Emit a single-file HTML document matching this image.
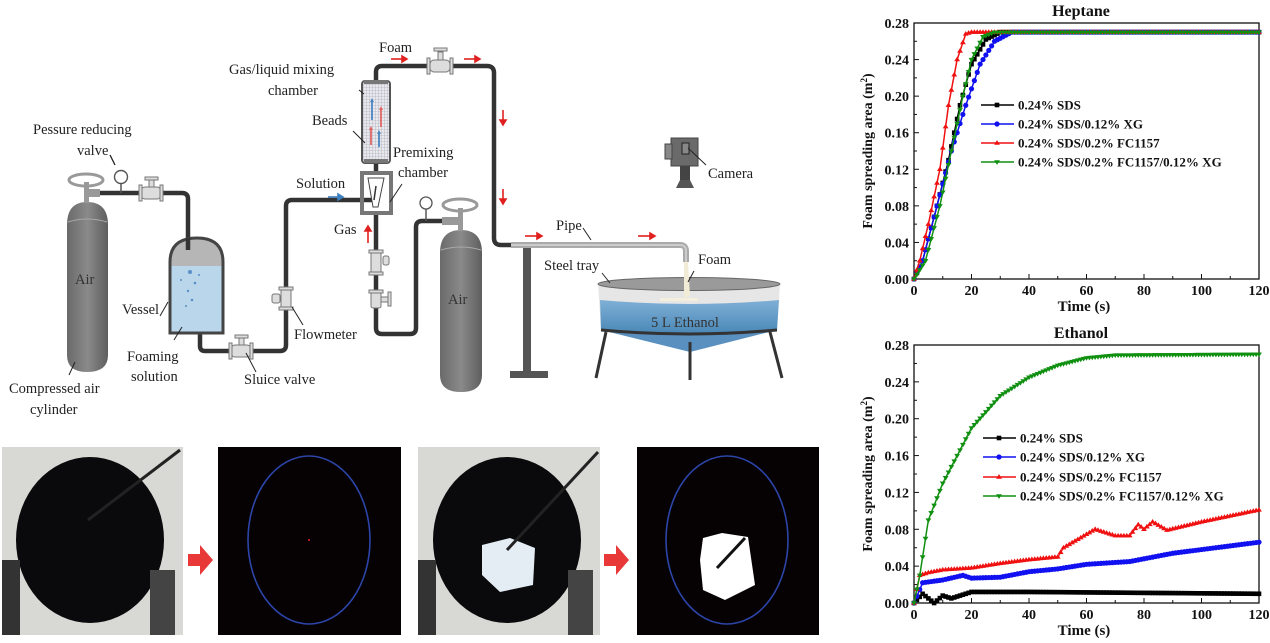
<!DOCTYPE html>
<html><head><meta charset="utf-8"><style>
html,body{margin:0;padding:0;background:#fff;}
svg{display:block;}
.l{font-family:"Liberation Serif",serif;font-size:14.5px;fill:#222;}
.c{font-family:"Liberation Serif",serif;font-weight:bold;fill:#111;}
</style></head><body>
<svg id="s" width="1270" height="643" viewBox="0 0 1270 643" xmlns="http://www.w3.org/2000/svg">
<defs>
<pattern id="grid" width="3" height="3" patternUnits="userSpaceOnUse"><rect width="3" height="3" fill="#e8e8ee"/><path d="M0 0H3M0 0V3" stroke="#9a9aa4" stroke-width="0.6"/></pattern>
<linearGradient id="cyl" x1="0" x2="1"><stop offset="0" stop-color="#6a6a6a"/><stop offset="0.5" stop-color="#8a8a8a"/><stop offset="1" stop-color="#5e5e5e"/></linearGradient>
<linearGradient id="wat" x1="0" y1="0" x2="0" y2="1"><stop offset="0" stop-color="#7fb0d6"/><stop offset="1" stop-color="#3f7fb0"/></linearGradient>
</defs>
<g fill="none" stroke="#333" stroke-width="4.5" stroke-linejoin="round">
<path d="M100 193 H182 Q188 193 188 199 V250"/>
<path d="M200 333 V346 Q200 351 205 351 H280 Q286 351 286 345 V206 Q286 200 292 200 H372"/>
<path d="M376 80 V72 Q376 66 382 66 H487 Q494 66 494 73 V238 Q494 245 501 245 H512"/>
<path d="M376 214 V328 Q376 334 382 334 H410 Q416 334 416 328 V227 Q416 221 422 221 H452"/>
<path d="M376 163 V172"/>
</g>
<path d="M67 225 Q67 202 87 202 Q108 202 108 225 V355 Q108 372 87 372 Q67 372 67 355Z" fill="url(#cyl)"/>
<path d="M68 222 Q87 216 107 222" stroke="#aaa" fill="none" stroke-width="1"/>
<rect x="84" y="182" width="5" height="21" fill="#999"/>
<rect x="88" y="189" width="12" height="8" fill="#999"/>
<ellipse cx="86" cy="180" rx="17" ry="6" fill="none" stroke="#999" stroke-width="3"/>
<circle cx="121" cy="177" r="6.5" fill="#fff" stroke="#555" stroke-width="1.4"/>
<line x1="121" y1="183" x2="121" y2="193" stroke="#555" stroke-width="1.5"/>
<line x1="115" y1="165" x2="110" y2="155" stroke="#222" stroke-width="1.3"/>
<g fill="#ddd" stroke="#777" stroke-width="1"><rect x="141" y="187" width="20" height="12" rx="4"/><rect x="139" y="185" width="3" height="16"/><rect x="160" y="185" width="3" height="16"/><rect x="149" y="180" width="5" height="7"/><rect x="145" y="177" width="13" height="3"/></g>
<path d="M170 333 V262 Q170 238 197 238 Q223 238 223 262 V333Z" fill="#b6b6b6" stroke="#444" stroke-width="3"/>
<rect x="171.5" y="266" width="50" height="65.5" fill="#b9d6ea"/>
<path d="M188 238 V250" stroke="#333" stroke-width="4.5"/>
<g fill="#5a8fc8"><circle cx="190" cy="272" r="2"/><circle cx="195" cy="283" r="1.3"/><circle cx="188" cy="291" r="1.2"/><circle cx="192" cy="300" r="1.3"/><circle cx="186" cy="306" r="1"/><circle cx="199" cy="275" r="1"/><circle cx="181" cy="280" r="1"/></g>
<g fill="#ddd" stroke="#777" stroke-width="1"><rect x="231" y="345" width="20" height="12" rx="4"/><rect x="229" y="343" width="3" height="16"/><rect x="250" y="343" width="3" height="16"/><rect x="239" y="338" width="5" height="7"/><rect x="235" y="335" width="13" height="3"/></g>
<g fill="#ddd" stroke="#777" stroke-width="1"><rect x="279" y="287" width="14" height="3"/><rect x="279" y="307" width="14" height="3"/><rect x="281" y="290" width="10" height="17"/><rect x="272" y="294" width="8" height="9" rx="2"/></g>
<g fill="#ddd" stroke="#777" stroke-width="1"><rect x="369" y="250" width="14" height="3"/><rect x="369" y="272" width="14" height="3"/><rect x="371" y="253" width="10" height="19"/><rect x="383" y="256" width="6" height="9" rx="2"/>
<rect x="371" y="292" width="10" height="16" rx="2"/><rect x="369" y="290" width="14" height="3"/><rect x="381" y="297" width="7" height="5"/><rect x="388" y="292" width="3" height="14"/></g>
<rect x="362" y="173" width="29" height="40" fill="none" stroke="#777" stroke-width="4"/>
<path d="M368 178 L384 178 L378 207 L373 207Z" fill="#fff" stroke="#444" stroke-width="1"/>
<path d="M374 200 L376 186" stroke="#333" stroke-width="1.5"/>
<rect x="362" y="81" width="28" height="82" rx="3" fill="url(#grid)" stroke="#555" stroke-width="2"/>
<rect x="364" y="80" width="24" height="4" fill="#777"/><rect x="364" y="159" width="24" height="4" fill="#777"/>
<g stroke-width="1.8"><path d="M372 120 V100" stroke="#4a86c0"/><path d="M381 127 V108" stroke="#e06666"/><path d="M371 145 V128" stroke="#e06666"/><path d="M379 147 V132" stroke="#4a86c0"/></g>
<g><path d="M372 98l-2 4h4z" fill="#4a86c0"/><path d="M381 106l-2 4h4z" fill="#e06666"/><path d="M371 126l-2 4h4z" fill="#e06666"/><path d="M379 130l-2 4h4z" fill="#4a86c0"/></g>
<line x1="359" y1="90" x2="364" y2="94" stroke="#222" stroke-width="1"/>
<line x1="353" y1="131" x2="365" y2="143" stroke="#222" stroke-width="1"/>
<line x1="402" y1="184" x2="390" y2="202" stroke="#222" stroke-width="1"/>
<g fill="#ddd" stroke="#777" stroke-width="1"><rect x="430" y="60" width="20" height="12" rx="4"/><rect x="427" y="58" width="3" height="16"/><rect x="450" y="58" width="3" height="16"/><rect x="438" y="52" width="5" height="8"/><rect x="434" y="48" width="13" height="3"/></g>
<g fill="#e02020" stroke="#e02020" stroke-width="1.6">
<path d="M391 59 H403"/><path d="M407 59 l-5 -3 v6z"/>
<path d="M464 59 H476"/><path d="M480 59 l-5 -3 v6z"/>
<path d="M503 110 V121"/><path d="M503 125 l-3 -5 h6z"/>
<path d="M503 189 V200"/><path d="M503 204 l-3 -5 h6z"/>
<path d="M525 236 H538"/><path d="M542 236 l-5 -3 v6z"/>
<path d="M638 236 H651"/><path d="M655 236 l-5 -3 v6z"/>
<path d="M368 243 V230"/><path d="M368 226 l-3 5 h6z"/>
</g>
<g fill="#3c7fc0" stroke="#3c7fc0" stroke-width="1.6"><path d="M328 197 H339"/><path d="M343 197 l-5 -3 v6z"/></g>
<path d="M440 253 Q440 230 461 230 Q482 230 482 253 V375 Q482 392 461 392 Q440 392 440 375Z" fill="url(#cyl)"/>
<path d="M441 250 Q461 244 481 250" stroke="#aaa" fill="none" stroke-width="1"/>
<rect x="458" y="208" width="5" height="23" fill="#999"/>
<rect x="442" y="217" width="16" height="8" fill="#999"/>
<ellipse cx="460" cy="205" rx="17" ry="6" fill="none" stroke="#999" stroke-width="3"/>
<circle cx="426" cy="203" r="6" fill="#fff" stroke="#555" stroke-width="1.3"/>
<line x1="426" y1="209" x2="426" y2="221" stroke="#555" stroke-width="1.5"/>
<rect x="523" y="248" width="8" height="125" fill="#555"/>
<rect x="510" y="371" width="38" height="7" fill="#555"/>
<path d="M511 245 H680 Q686 245 686 251 V262" fill="none" stroke="#aaa" stroke-width="6"/>
<path d="M511 245 H680 Q686 245 686 251 V262" fill="none" stroke="#ccc" stroke-width="2"/>
<line x1="591" y1="240" x2="583" y2="228" stroke="#222" stroke-width="1"/>
<path d="M598 284 L601 330 Q690 352 777 330 L780 284Z" fill="#e6e6e6"/>
<path d="M600 300 L601 330 Q690 352 777 330 L779 300 Q690 308 600 300Z" fill="url(#wat)"/>
<path d="M601 330 L690 352 L777 330 Q690 340 601 330Z" fill="#5a90c0"/>
<ellipse cx="689" cy="284" rx="91" ry="6.5" fill="#9a9a9a" stroke="#666" stroke-width="1"/>
<path d="M606 332 L596 378 M770 332 L782 378 M690 342 V380 M601 330 Q690 338 777 330" stroke="#333" stroke-width="3" fill="none"/>
<path d="M684 262 L688 262 L690 296 L684 298Z" fill="#f2ecd6"/>
<rect x="660" y="298" width="38" height="3" fill="#f4efdc"/>
<line x1="602" y1="273" x2="610" y2="283" stroke="#222" stroke-width="1"/>
<line x1="694" y1="271" x2="688" y2="282" stroke="#222" stroke-width="1"/>
<rect x="671" y="138" width="27" height="28" fill="#6a6a6a" stroke="#444"/>
<rect x="665" y="144" width="7" height="15" fill="#888" stroke="#444"/>
<rect x="682" y="143" width="7" height="11" fill="#888" stroke="#222"/>
<rect x="680" y="166" width="10" height="16" fill="#444"/>
<path d="M676 188 L680 180 L690 180 L694 188Z" fill="#555"/>
<line x1="688" y1="148" x2="706" y2="165" stroke="#222" stroke-width="1"/>
<g class="l">
<text x="33" y="134">Pessure reducing</text><text x="77" y="155">valve</text>
<text x="75" y="284" fill="#333">Air</text><text x="448" y="304" fill="#333">Air</text>
<text x="122" y="314">Vessel</text>
<text x="127" y="361">Foaming</text><text x="131" y="381">solution</text>
<text x="9" y="393">Compressed air</text><text x="30" y="414">cylinder</text>
<text x="244" y="384">Sluice valve</text>
<text x="294" y="339">Flowmeter</text>
<text x="296" y="188">Solution</text>
<text x="334" y="234">Gas</text>
<text x="229" y="74">Gas/liquid mixing</text><text x="268" y="95">chamber</text>
<text x="312" y="125">Beads</text>
<text x="393" y="157">Premixing</text><text x="398" y="177">chamber</text>
<text x="379" y="52">Foam</text>
<text x="708" y="178">Camera</text>
<text x="556" y="230">Pipe</text>
<text x="544" y="270">Steel tray</text>
<text x="698" y="264">Foam</text>
<text x="651" y="327" fill="#333">5 L Ethanol</text>
</g>
<line x1="168" y1="302" x2="160" y2="316" stroke="#222" stroke-width="1"/>
<line x1="182" y1="327" x2="174" y2="340" stroke="#222" stroke-width="1"/>
<line x1="75" y1="362" x2="69" y2="375" stroke="#222" stroke-width="1"/>
<line x1="246" y1="353" x2="256" y2="372" stroke="#222" stroke-width="1"/>
<line x1="292" y1="307" x2="303" y2="325" stroke="#222" stroke-width="1"/>
<g>
<rect x="2" y="447" width="181" height="188" fill="#d8d8d4"/>
<ellipse cx="90" cy="540" rx="74" ry="83" fill="#0a0a0c"/>
<line x1="88" y1="520" x2="180" y2="450" stroke="#222" stroke-width="3"/>
<rect x="2" y="560" width="18" height="75" fill="#333"/><rect x="150" y="570" width="25" height="65" fill="#444"/>
<rect x="218" y="447" width="183" height="188" fill="#060103"/>
<ellipse cx="309" cy="540" rx="61" ry="84" fill="none" stroke="#2c45a8" stroke-width="1.6"/>
<circle cx="309" cy="540" r="1" fill="#e22"/>
<rect x="418" y="447" width="182" height="188" fill="#d8d8d4"/>
<ellipse cx="507" cy="540" rx="74" ry="83" fill="#0a0a0c"/>
<path d="M482 545 L510 538 L535 548 L533 585 L500 592 L482 575Z" fill="#e4ecf4"/>
<line x1="507" y1="550" x2="598" y2="452" stroke="#222" stroke-width="3"/>
<rect x="418" y="560" width="18" height="75" fill="#333"/><rect x="568" y="570" width="25" height="65" fill="#444"/>
<rect x="637" y="447" width="182" height="188" fill="#060103"/>
<ellipse cx="727" cy="540" rx="61" ry="84" fill="none" stroke="#2c45a8" stroke-width="1.6"/>
<path d="M703 538 L722 533 L748 537 L755 585 L725 600 L703 590 L700 560Z" fill="#fff"/>
<line x1="717" y1="568" x2="745" y2="538" stroke="#111" stroke-width="3"/>
<path d="M188 554 H200 V545 L213 560 L200 575 V566 H188Z" fill="#e83838"/>
<path d="M604 554 H616 V545 L629 560 L616 575 V566 H604Z" fill="#e83838"/>
</g>
<g id="charts"></g>
</svg>
<script>
(function(){
var NS="http://www.w3.org/2000/svg",g=document.getElementById("charts");
function el(t,a,txt){var e=document.createElementNS(NS,t);for(var k in a)e.setAttribute(k,a[k]);if(txt!=null)e.textContent=txt;g.appendChild(e);return e;}
function interp(p,t){for(var i=1;i<p.length;i++){if(t<=p[i][0]){var a=p[i-1],b=p[i];return a[1]+(b[1]-a[1])*(t-a[0])/(b[0]-a[0]);}}return p[p.length-1][1];}
function marker(c,x,y,col){var s=2.3;
 if(c==0)el("rect",{x:x-s,y:y-s,width:2*s,height:2*s,fill:col});
 else if(c==1)el("circle",{cx:x,cy:y,r:s+0.3,fill:col});
 else if(c==2)el("path",{d:"M"+x+" "+(y-s-0.6)+"l"+(s+0.6)+" "+(2*s)+"h"+(-2*s-1.2)+"z",fill:col});
 else el("path",{d:"M"+x+" "+(y+s+0.6)+"l"+(s+0.6)+" "+(-2*s)+"h"+(-2*s-1.2)+"z",fill:col});}
function chart(title,top,bot,series,legY,legX){
 var x0=914,x1=1259;
 function X(t){return x0+(x1-x0)*t/120;} function Y(v){return bot-(bot-top)*v/0.28;}
 el("text",{x:1081,y:top-7,"text-anchor":"middle","class":"c","font-size":"16"},title);
 el("rect",{x:x0,y:top,width:x1-x0,height:bot-top,fill:"none",stroke:"#111","stroke-width":1.3});
 for(var i=0;i<=7;i++){var v=i*0.04,y=Y(v);
  el("line",{x1:x0,y1:y,x2:x0+5,y2:y,stroke:"#111"});
  if(i<7)el("line",{x1:x0,y1:Y(v+0.02),x2:x0+3,y2:Y(v+0.02),stroke:"#111"});
  el("text",{x:x0-5,y:y+5,"text-anchor":"end","class":"c","font-size":"14"},v.toFixed(2));}
 for(var t=0;t<=120;t+=20){var x=X(t);el("line",{x1:x,y1:bot,x2:x,y2:bot-5,stroke:"#111"});
  if(t<120)el("line",{x1:X(t+10),y1:bot,x2:X(t+10),y2:bot-3,stroke:"#111"});
  el("text",{x:x,y:bot+16,"text-anchor":"middle","class":"c","font-size":"14"},String(t));}
 el("text",{x:1084,y:bot+32,"text-anchor":"middle","class":"c","font-size":"15"},"Time (s)");
 var cy=(top+bot)/2,ty=el("text",{x:0,y:0,"text-anchor":"middle","class":"c","font-size":"14",transform:"translate(872,"+cy+") rotate(-90)"},"Foam spreading area (m");
 var ts=document.createElementNS(NS,"tspan");ts.setAttribute("font-size","9");ts.setAttribute("dy","-5");ts.textContent="2";ty.appendChild(ts);
 var ts2=document.createElementNS(NS,"tspan");ts2.setAttribute("dy","5");ts2.textContent=")";ty.appendChild(ts2);
 series.forEach(function(s,idx){var d="";for(var t=0;t<=120;t+=0.5){d+=(t?"L":"M")+X(t).toFixed(1)+" "+Y(interp(s.p,t)).toFixed(1);}
  el("path",{d:d,fill:"none",stroke:s.c,"stroke-width":1.5});
  for(var t=0;t<=120;t+=1)marker(idx,X(t),Y(interp(s.p,t)),s.c);});
 var names=["0.24% SDS","0.24% SDS/0.12% XG","0.24% SDS/0.2% FC1157","0.24% SDS/0.2% FC1157/0.12% XG"];
 series.forEach(function(s,i){var y=legY[i];el("line",{x1:legX,y1:y,x2:legX+33,y2:y,stroke:s.c,"stroke-width":1.5});marker(i,legX+16,y,s.c);
  el("text",{x:legX+37,y:y+4.5,"class":"c","font-size":"13"},names[i]);});
}
chart("Heptane",23,279,[
 {c:"#000",p:[[0,0],[3,0.02],[8,0.08],[12,0.13],[16,0.19],[20,0.235],[25,0.262],[30,0.27],[120,0.27]]},
 {c:"#1010f0",p:[[0,0],[3,0.02],[8,0.08],[13,0.14],[18,0.19],[23,0.235],[28,0.26],[34,0.27],[120,0.27]]},
 {c:"#f01010",p:[[0,0],[2,0.02],[5,0.06],[9,0.12],[12,0.19],[15,0.24],[18,0.268],[20,0.27],[120,0.27]]},
 {c:"#109010",p:[[0,0],[4,0.02],[9,0.08],[13,0.14],[17,0.2],[20,0.24],[24,0.265],[28,0.27],[120,0.27]]}],[105,124,143,162],981);
chart("Ethanol",345,603,[
 {c:"#000",p:[[0,0],[3,0.01],[7,0.0],[10,0.008],[13,0.005],[20,0.012],[40,0.012],[80,0.011],[120,0.01]]},
 {c:"#1010f0",p:[[0,0],[3,0.022],[10,0.025],[17,0.03],[20,0.027],[30,0.028],[40,0.034],[50,0.037],[60,0.042],[75,0.045],[90,0.054],[105,0.06],[120,0.066]]},
 {c:"#f01010",p:[[0,0],[2,0.03],[5,0.033],[10,0.036],[20,0.038],[30,0.043],[40,0.047],[50,0.05],[52,0.06],[63,0.08],[70,0.073],[75,0.073],[78,0.085],[80,0.08],[83,0.088],[88,0.079],[100,0.088],[120,0.101]]},
 {c:"#109010",p:[[0,0],[2,0.03],[5,0.09],[10,0.13],[15,0.16],[20,0.19],[30,0.225],[40,0.245],[50,0.258],[60,0.266],[70,0.269],[120,0.27]]}],[438,457,477,496],983);
})();
</script>
</body></html>
